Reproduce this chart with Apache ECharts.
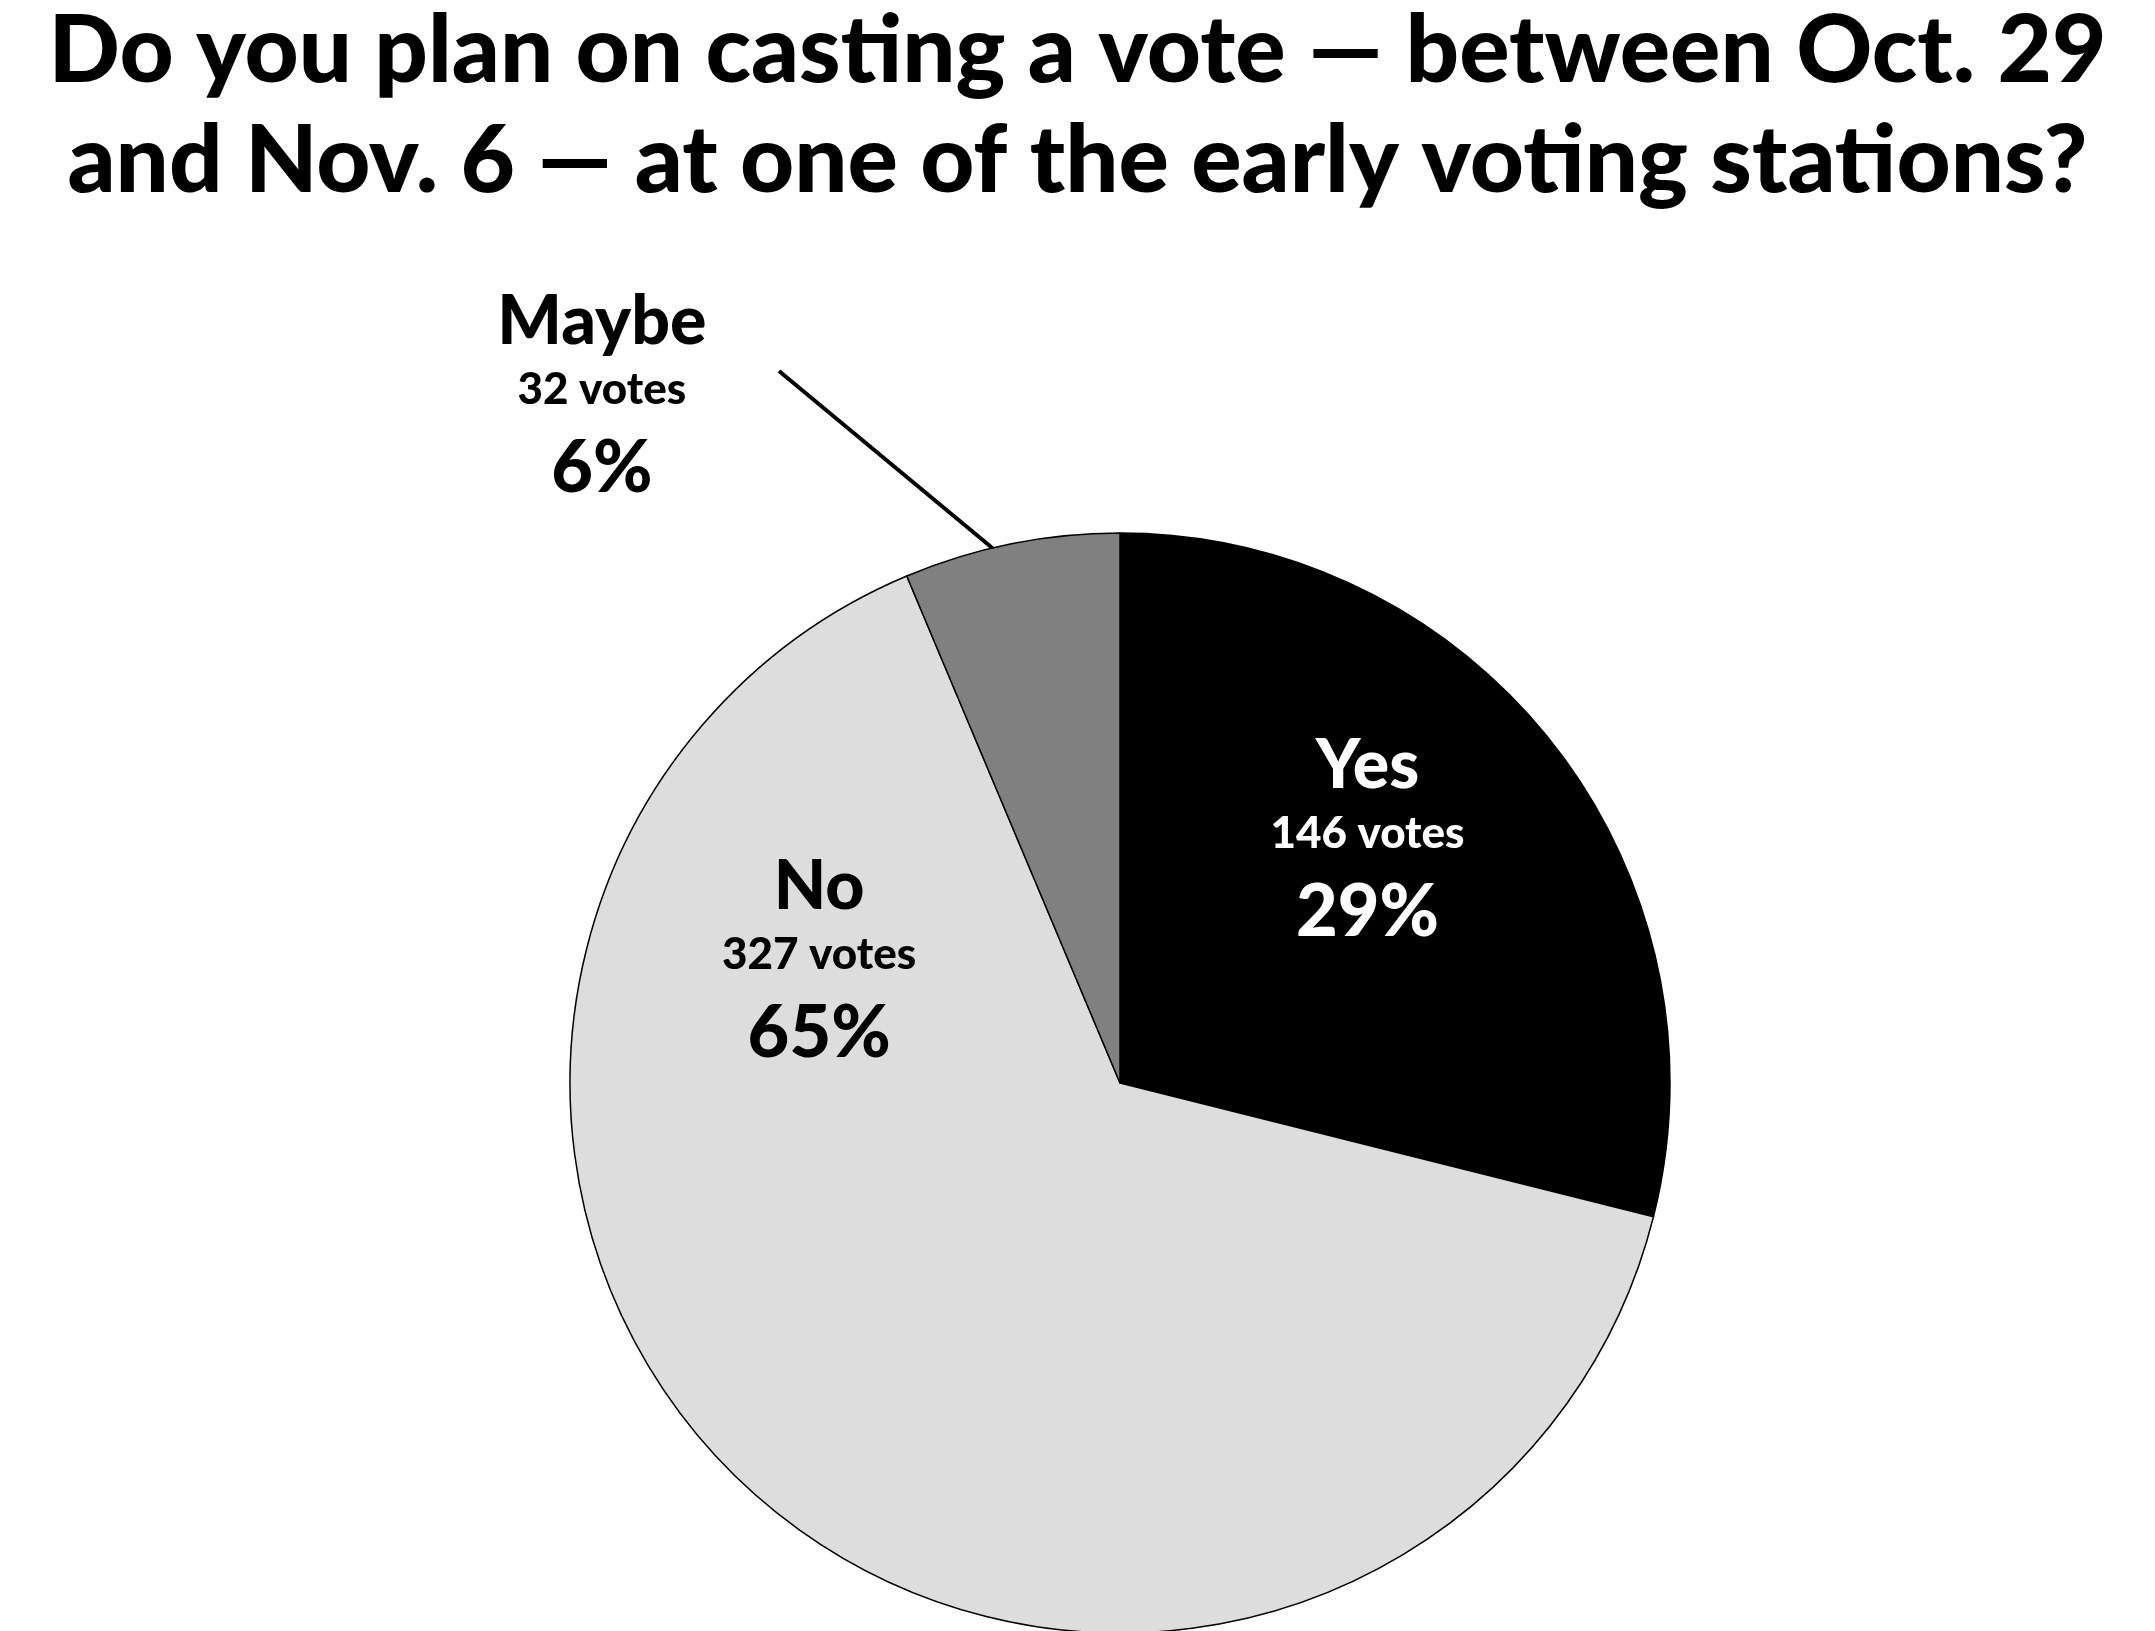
<!DOCTYPE html>
<html><head><meta charset="utf-8">
<script src="https://cdn.jsdelivr.net/npm/echarts@6/dist/echarts.min.js"></script>
<style>html,body{margin:0;padding:0;background:#fff}#c{width:2155px;height:1631px}</style>
</head><body><div id="c"></div>
<script>
const categories = ['Yes', 'No', 'Maybe'];
const votes = [146, 327, 32];
const percents = ['29%', '65%', '6%'];
const colors = ['#000000', '#dddddd', '#808080'];
const labelColors = ['#ffffff', '#000000', '#000000'];
// label centres, relative to pie centre in radius units
const labelPos = [[0.45, -0.433], [-0.547, -0.213], [-0.942, -1.24]];

const CX = 1120, CY = 1083, R = 550;
const chart = echarts.init(document.getElementById('c'));
const font = 'Lato, "Open Sans", sans-serif';
chart.setOption({
  backgroundColor: '#fff',
  title: {
    text: 'Do you plan on casting a vote — between Oct. 29\nand Nov. 6 — at one of the early voting stations?',
    left: 'center', top: -8,
    textStyle: { fontFamily: font, fontWeight: 900, fontSize: 94, lineHeight: 110, color: '#000' }
  },
  graphic: [{
    type: 'line', silent: true,
    shape: { x1: 779, y1: 371, x2: 1090, y2: 629 },
    style: { stroke: '#000', lineWidth: 4 }
  }],
  series: [{
    type: 'pie', center: [CX, CY], radius: R, startAngle: 90, clockwise: true,
    animation: false, silent: true,
    itemStyle: { borderColor: '#000', borderWidth: 1.5 },
    data: categories.map((c, i) => ({
      name: c, value: votes[i],
      itemStyle: { color: colors[i] },
      label: {
        show: true, position: i === 2 ? 'outside' : 'inside',
        formatter: '{a|' + c + '}\n{b|' + votes[i] + ' votes}\n{c|' + percents[i] + '}',
        rich: {
          a: { fontFamily: font, fontWeight: 900, fontSize: 68, color: labelColors[i], lineHeight: 70, align: 'center' },
          b: { fontFamily: font, fontWeight: 900, fontSize: 44, color: labelColors[i], lineHeight: 66, align: 'center' },
          c: { fontFamily: font, fontWeight: 900, fontSize: 72, color: labelColors[i], lineHeight: 92, align: 'center' }
        }
      },
      labelLine: { show: false }
    })),
    labelLayout: function (p) {
      const pos = labelPos[p.dataIndex];
      return { x: CX + pos[0] * R, y: CY + pos[1] * R, align: 'center', verticalAlign: 'middle' };
    }
  }]
});
</script></body></html>
